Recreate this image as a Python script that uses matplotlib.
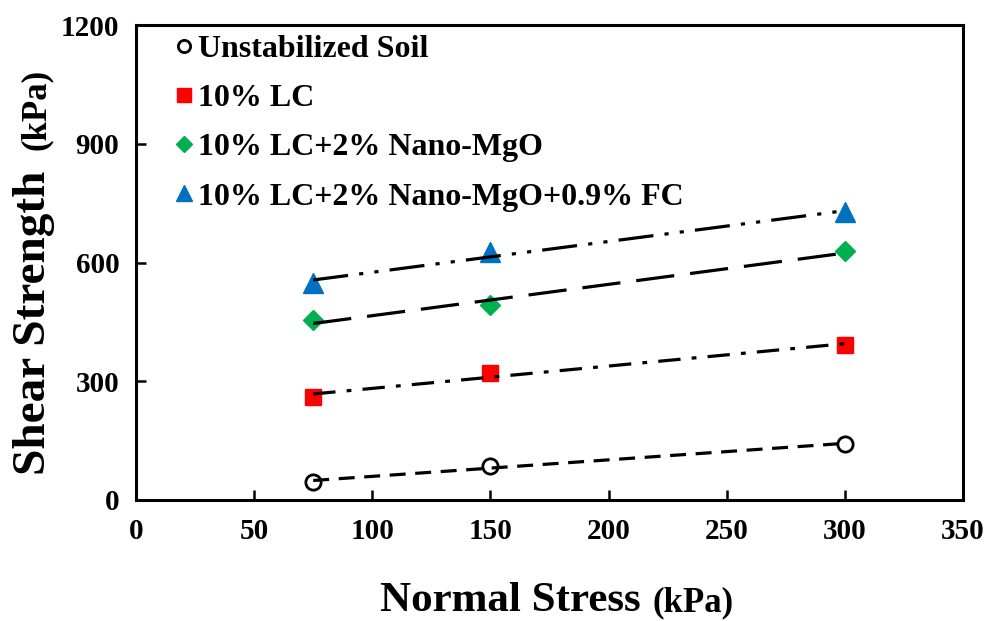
import numpy as np
import matplotlib
matplotlib.use("Agg")
import matplotlib.pyplot as plt

# -----------------------------
# Direct shear test results
# -----------------------------
normal_stress = [75, 150, 300]                 # kPa

unstabilized = [45, 87, 141]                   # kPa
lc10 = [260, 322, 391]
lc10_mgo = [454, 493, 628]
lc10_mgo_fc = [548, 626, 727]

labels = ["Unstabilized Soil",
          "10% LC",
          "10% LC+2% Nano-MgO",
          "10% LC+2% Nano-MgO+0.9% FC"]

plt.rcParams["font.family"] = "Liberation Serif"
plt.rcParams["font.weight"] = "bold"

fig = plt.figure(figsize=(9.89, 6.21), dpi=100)
ax = fig.add_axes([136 / 989, 1 - 500 / 621, 827 / 989, 475 / 621])

series = [
    (unstabilized, dict(marker="o", mfc="white", mec="black", mew=2.0, ms=11),
     (0, (5, 3))),
    (lc10, dict(marker="s", mfc="#FF0000", mec="#FF0000", ms=12),
     (0, (7, 3.5, 1.5, 3.5))),
    (lc10_mgo, dict(marker="D", mfc="#00B050", mec="#00B050", ms=10),
     (0, (12, 5))),
    (lc10_mgo_fc, dict(marker="^", mfc="#0070C0", mec="#0070C0", ms=14),
     (0, (11, 3.5, 1.3, 3.5, 1.3, 3.5))),
]

x = np.array(normal_stress, dtype=float)
for (y, mstyle, ls), lab in zip(series, labels):
    ax.plot(x, y, linestyle="none", label=lab, zorder=3, **mstyle)
    # linear Mohr-Coulomb fit through the three points
    k, b = np.polyfit(x, y, 1)
    xf = np.array([x.min(), x.max()])
    ax.plot(xf, k * xf + b, color="black", lw=2.3, linestyle=ls, zorder=4)

ax.set_xlim(0, 350)
ax.set_ylim(0, 1200)
ax.set_xticks(np.arange(0, 351, 50))
ax.set_yticks(np.arange(0, 1201, 300))
ax.tick_params(direction="in", length=7, width=1.8, labelsize=21,
               top=False, right=False)
ax.tick_params(axis="x", pad=13)
ax.tick_params(axis="y", pad=12)
for sp in ax.spines.values():
    sp.set_linewidth(2.2)

# axis titles: main words larger than the unit
fig.text(380 / 989, 1 - 611 / 621, "Normal Stress", fontsize=31,
         ha="left", va="baseline")
fig.text(652 / 989, 1 - 611 / 621, "(kPa)", fontsize=25,
         ha="left", va="baseline")
fig.text(45 / 989, 1 - 475 / 621, "Shear Strength", fontsize=34,
         rotation=90, ha="left", va="baseline", rotation_mode="anchor")
fig.text(45 / 989, 1 - 150 / 621, "(kPa)", fontsize=25,
         rotation=90, ha="left", va="baseline", rotation_mode="anchor")

leg = ax.legend(loc="upper left", bbox_to_anchor=(160 / 989, 1 - 22 / 621),
                bbox_transform=fig.transFigure, frameon=False,
                fontsize=23, handlelength=0.7, handletextpad=0.1,
                labelspacing=0.62, borderaxespad=0, markerscale=0.8)

fig.savefig("out.png", dpi=100)
